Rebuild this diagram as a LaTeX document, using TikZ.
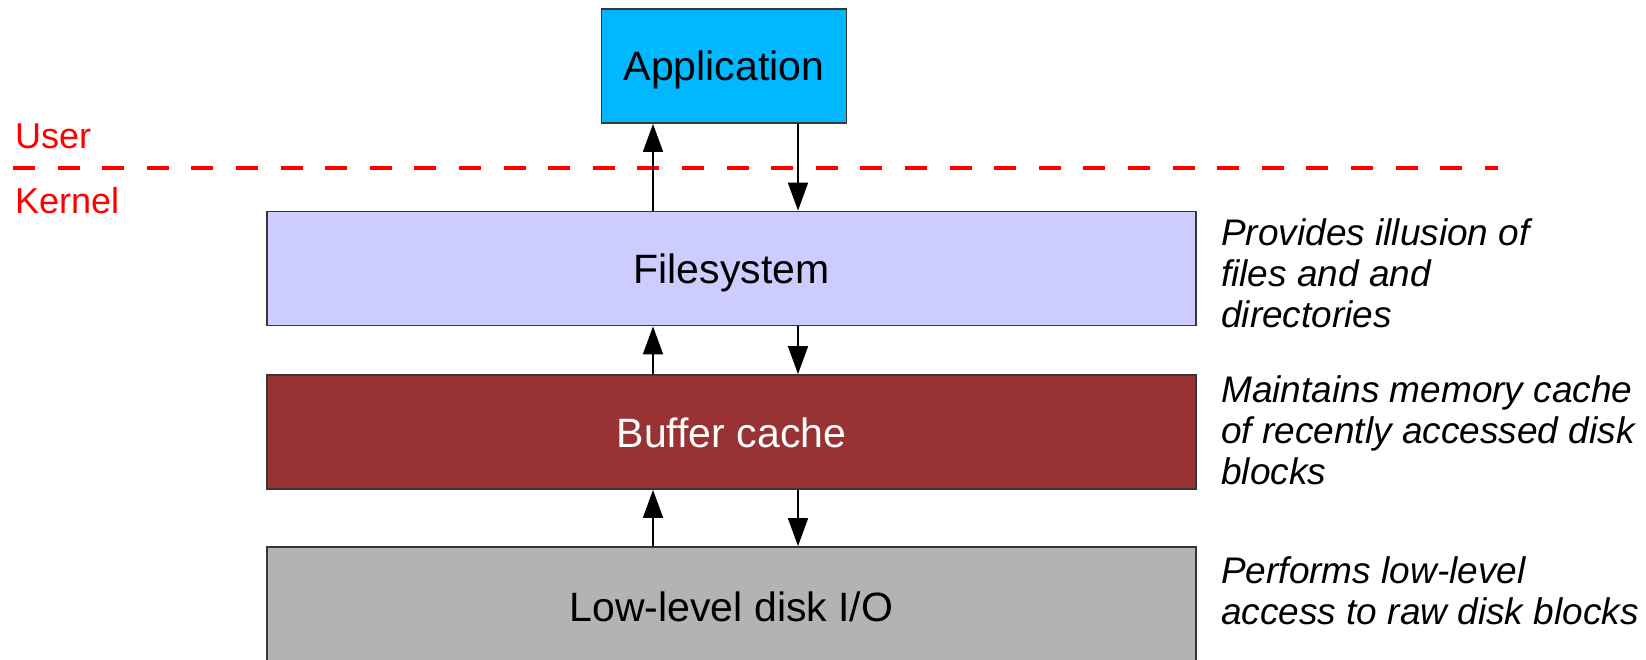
\documentclass[tikz,border=0pt]{standalone}
\usepackage{fontspec}
\setmainfont{Liberation Sans}
\usetikzlibrary{arrows.meta}
\definecolor{appblue}{RGB}{0,184,255}
\definecolor{fslav}{RGB}{204,204,255}
\definecolor{bufred}{RGB}{153,51,51}
\definecolor{lowgray}{RGB}{179,179,179}
\definecolor{edgegray}{RGB}{55,55,55}
\begin{document}
\begin{tikzpicture}[x=1pt,y=-1pt,
  layer/.style={draw=edgegray, line width=1.8pt, rectangle, inner sep=0pt,
    text height=30pt, text depth=0pt,
    font=\fontsize{41}{46}\selectfont},
  arr/.style={line width=1.6pt, -{Triangle[length=28pt,width=20pt]}},
  side/.style={anchor=north west, align=left, inner sep=0pt,
    font=\itshape\fontsize{37}{41}\selectfont},
  redlbl/.style={text=red, anchor=west, inner sep=0pt, font=\fontsize{36}{40}\selectfont}
]
\useasboundingbox (0,0) rectangle (1646,660);
\clip (0,0) rectangle (1646,660);
\fill[white] (0,0) rectangle (1646,660);

\node[layer, fill=appblue, minimum width=245pt, minimum height=114pt] (app) at (724,66) {Application};
\node[layer, fill=fslav, minimum width=929pt, minimum height=114pt] (fs) at (731.5,268.5) {Filesystem};
\node[layer, fill=bufred, text=white, minimum width=929pt, minimum height=114pt] (buf) at (731.5,432) {Buffer cache};
\node[layer, fill=lowgray, minimum width=929pt, minimum height=118pt] (low) at (731.5,606) {Low-level disk I/O};

\coordinate (ux) at (653,0);
\coordinate (dx) at (798,0);
\coordinate (dl) at (13,168);
\coordinate (dr) at (1498,168);

\draw[red, line width=4pt, dash pattern=on 22pt off 22.6pt] (dl) -- (dr);
\node[redlbl] (user) at (15,136) {User};
\node[redlbl] (kernel) at (15,201) {Kernel};

\draw[arr] (fs.north -| ux) -- (app.south -| ux);
\draw[arr] (app.south -| dx) -- (fs.north -| dx);
\draw[arr] (buf.north -| ux) -- (fs.south -| ux);
\draw[arr] (fs.south -| dx) -- (buf.north -| dx);
\draw[arr] (low.north -| ux) -- (buf.south -| ux);
\draw[arr] (buf.south -| dx) -- (low.north -| dx);

\node[side] (d1) at (1221,218) {Provides illusion of\\files and and\\directories};
\node[side] (d2) at (1221,375) {Maintains memory cache\\of recently accessed disk\\blocks};
\node[side] (d3) at (1221,556) {Performs low-level\\access to raw disk blocks};
\end{tikzpicture}
\end{document}
